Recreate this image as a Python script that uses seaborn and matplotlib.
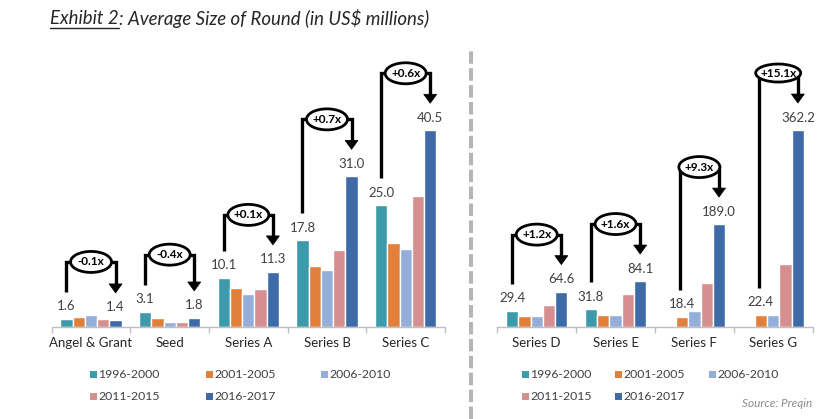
import numpy as np
import pandas as pd
import matplotlib
matplotlib.use("Agg")
import matplotlib.pyplot as plt
import seaborn as sns
from matplotlib.patches import Ellipse, Polygon, Rectangle
from matplotlib.lines import Line2D

# ---------------- data ----------------
periods = ["1996-2000", "2001-2005", "2006-2010", "2011-2015", "2016-2017"]
colors = ["#3d9aab", "#e0803a", "#93aed8", "#d68f8f", "#3f6aa8"]

left_cats = ["Angel & Grant", "Seed", "Series A", "Series B", "Series C"]
left_1996 = [1.6, 3.1, 10.1, 17.8, 25.0]
left_2001 = [2.0, 1.8, 8.0, 12.5, 17.2]
left_2006 = [2.4, 0.9, 6.7, 11.7, 16.1]
left_2011 = [1.5, 0.9, 7.7, 15.8, 26.9]
left_2016 = [1.4, 1.8, 11.3, 31.0, 40.5]
left_mult = ["-0.1x", "-0.4x", "+0.1x", "+0.7x", "+0.6x"]

right_cats = ["Series D", "Series E", "Series F", "Series G"]
right_1996 = [29.4, 31.8, 0.0, 0.0]
right_2001 = [19.7, 21.0, 18.4, 22.4]
right_2006 = [19.7, 21.5, 28.3, 22.4]
right_2011 = [40.5, 59.6, 81.0, 115.5]
right_2016 = [64.6, 84.1, 189.0, 362.2]
right_mult = ["+1.2x", "+1.6x", "+9.3x", "+15.1x"]
right_first = [0, 0, 1, 1]   # index of first labelled period per category

sns.set_theme(style="white")
plt.rcParams["font.family"] = ["Lato", "DejaVu Sans"]

W, H = 820, 419
fig = plt.figure(figsize=(W / 100, H / 100), dpi=100)
fig.patch.set_facecolor("white")

BASE = 326.7
TOP = 20.0


def make_df(cats, series):
    rows = []
    for p, vals in zip(periods, series):
        for c, v in zip(cats, vals):
            rows.append({"cat": c, "period": p, "value": v})
    return pd.DataFrame(rows)


def panel(x0, x1, cats, series, mults, firsts, ppu):
    n = len(cats)
    ax = fig.add_axes([x0 / W, (H - BASE) / H, (x1 - x0) / W, (BASE - TOP) / H])
    df = make_df(cats, series)
    sns.barplot(data=df, x="cat", y="value", hue="period", hue_order=periods,
                palette=colors, saturation=1, width=0.78, ax=ax, legend=False,
                errorbar=None, order=cats)
    ymax = (BASE - TOP) / ppu
    ax.set_ylim(0, ymax)
    ax.set_xlim(-0.5, n - 0.5)
    ax.set_facecolor("none")
    for s in ["left", "right", "top"]:
        ax.spines[s].set_visible(False)
    ax.spines["bottom"].set_color("#bfbfbf")
    ax.spines["bottom"].set_linewidth(1)
    ax.set_yticks([])
    ax.set_xlabel("")
    ax.set_ylabel("")
    ax.set_xticks(range(n))
    ax.set_xticklabels(cats, fontsize=9.5, color="#262626")
    ax.set_xticks(np.arange(-0.5, n), minor=True)
    ax.tick_params(axis="x", which="major", length=0, pad=7.5)
    ax.tick_params(axis="x", which="minor", length=4, color="#bfbfbf",
                   width=1, direction="out", bottom=True)

    pxx = (x1 - x0) / n  # pixels per category
    bw = 0.78 / 5

    def dx(px):
        return px / pxx

    def dy(px):
        return px / ppu

    for i in range(n):
        fi = firsts[i]
        v0 = series[fi][i]
        v1 = series[4][i]
        xl_lab = i + (fi - 2) * bw
        xl = i + ((fi - 0.2 if fi > 0 else fi) - 2) * bw
        xr = i + 2 * bw
        fmt0 = f"{v0:.1f}"
        fmt1 = f"{v1:.1f}"
        ax.text(xl_lab, v0 + dy(12.5), fmt0, ha="center", va="center",
                fontsize=9.5, color="#404040", clip_on=False)
        ax.text(xr, v1 + dy(12.5), fmt1, ha="center", va="center",
                fontsize=9.5, color="#404040", clip_on=False)
        y0 = v0 + dy(27)
        y1 = v1 + dy(27)
        yt = max(y0, y1) + dy(30)
        ax.plot([xl, xl, xr, xr], [y0, yt, yt, y1 + dy(8)], color="black",
                lw=2.4, solid_capstyle="butt", solid_joinstyle="miter",
                clip_on=False, zorder=5)
        tri = Polygon([[xr - dx(6.5), y1 + dy(9)], [xr + dx(6.5), y1 + dy(9)],
                       [xr, y1]], closed=True, facecolor="black",
                      edgecolor="black", lw=0.5, clip_on=False, zorder=6)
        ax.add_patch(tri)
        ew = 41 if len(mults[i]) <= 5 else 45
        eh = 21 if len(mults[i]) <= 5 else 18
        xm = (xl + xr) / 2
        ell = Ellipse((xm, yt), dx(ew), dy(eh), facecolor="white",
                      edgecolor="black", lw=2, clip_on=False, zorder=7)
        ax.add_patch(ell)
        ax.text(xm, yt, mults[i], ha="center", va="center", fontsize=8.5,
                fontweight="bold", color="black", zorder=8, clip_on=False)
    return ax


left_series = [left_1996, left_2001, left_2006, left_2011, left_2016]
right_series = [right_1996, right_2001, right_2006, right_2011, right_2016]

panel(51.7, 445.0, left_cats, left_series, left_mult, [0] * 5, 4.85)
panel(497.3, 812.7, right_cats, right_series, right_mult, right_first, 0.543)

# dashed separator
fig.add_artist(Line2D([471 / W, 471 / W], [0, 1 - 50 / H], color="#b5b5b5",
                      lw=2.9, linestyle=(0, (3.1, 1.1)),
                      transform=fig.transFigure))

# title
fig.canvas.draw()
rend = fig.canvas.get_renderer()
t1 = fig.text(50 / W, 1 - 18 / H, "Exhibit 2", fontsize=13.4, style="italic",
              color="#262626", va="center", ha="left")
bb = t1.get_window_extent(renderer=rend)
fig.text(bb.x1 / W, 1 - 18 / H, ": Average Size of Round (in US$ millions)",
         fontsize=13.4, style="italic", color="#262626", va="center", ha="left")
fig.add_artist(Line2D([bb.x0 / W, bb.x1 / W], [1 - 28 / H, 1 - 28 / H],
                      color="#262626", lw=1, transform=fig.transFigure))


# legends (manual)
def legend(xs):
    pos = [(xs[0], 374), (xs[1], 374), (xs[2], 374), (xs[0], 396), (xs[1], 396)]
    for (x, y), p, c in zip(pos, periods, colors):
        fig.add_artist(Rectangle(((x) / W, 1 - (y + 3.5) / H), 7 / W, 7 / H,
                                 facecolor=c, edgecolor="none",
                                 transform=fig.transFigure))
        fig.text((x + 8.5) / W, 1 - y / H, p, fontsize=8.8, color="#404040",
                 va="center", ha="left")


legend([90, 206, 321])
legend([522, 615, 709])

fig.text(812 / W, 1 - 403 / H, "Source: Preqin", fontsize=8.5,
         style="italic", color="#8c8c8c", ha="right", va="center")

fig.savefig("out.png", dpi=100)
